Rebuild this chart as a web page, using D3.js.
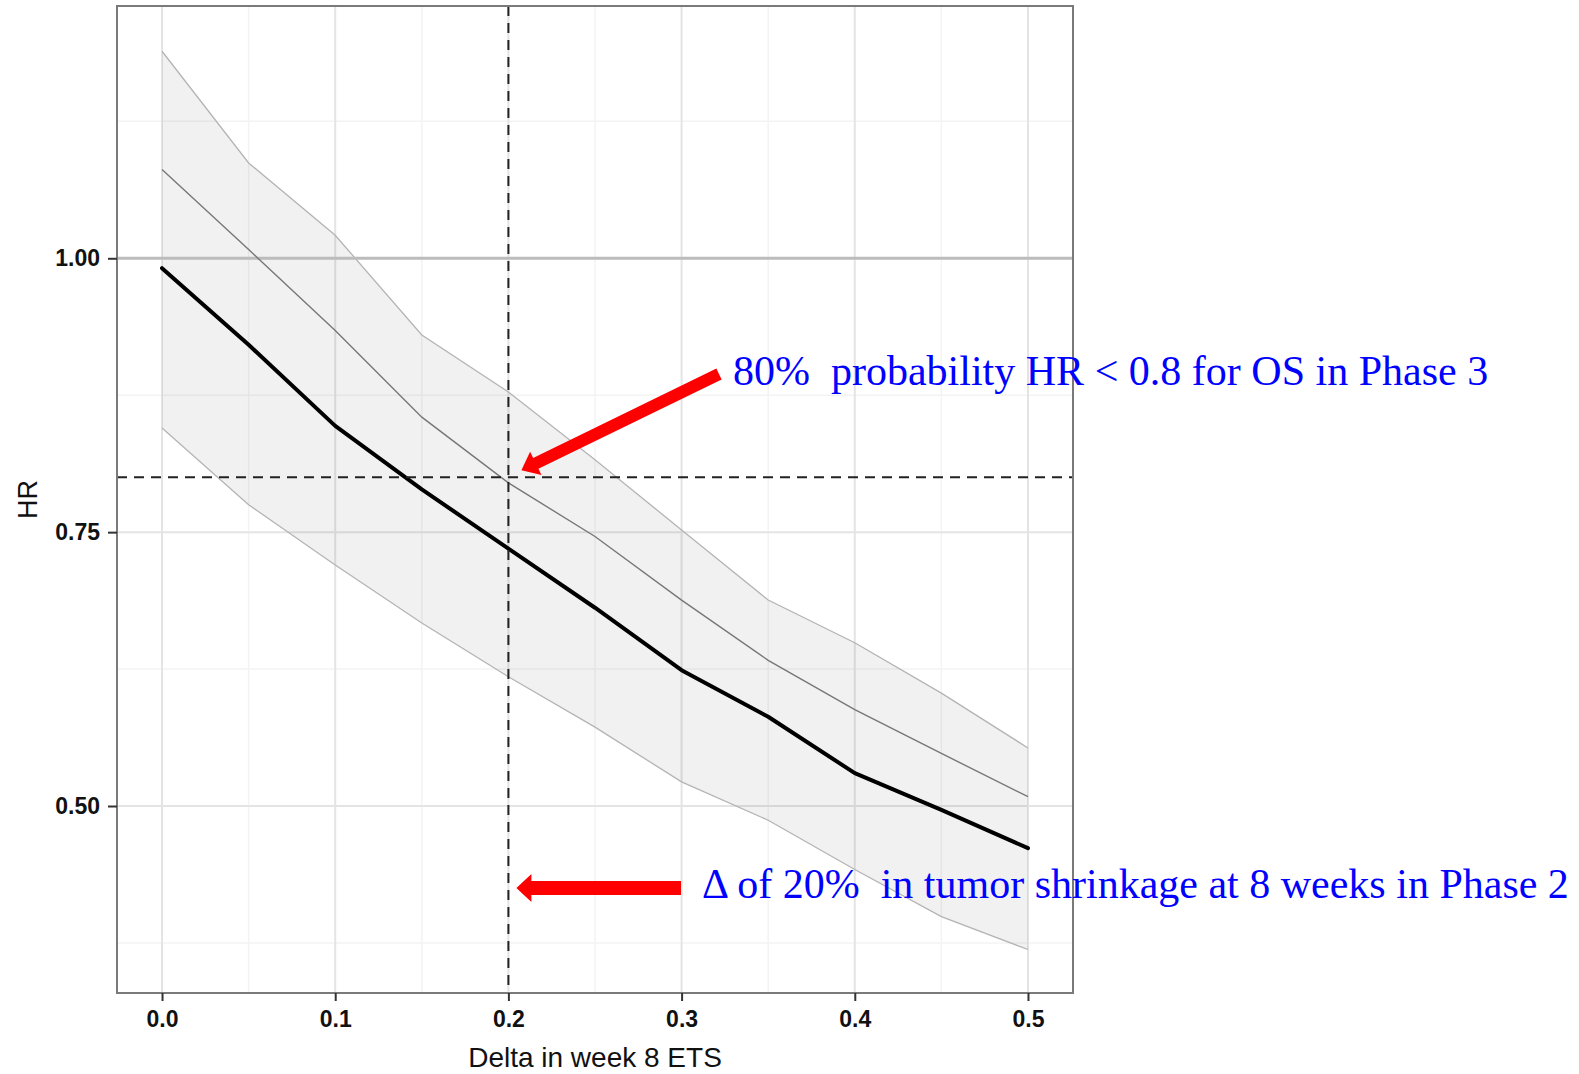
<!DOCTYPE html>
<html>
<head>
<meta charset="utf-8">
<script src="https://cdn.jsdelivr.net/npm/d3@7/dist/d3.min.js"></script>
<style>
  html, body { margin: 0; padding: 0; background: #fff; }
  svg { display: block; }
  .ann { white-space: pre; }
</style>
</head>
<body>
<svg id="chart" width="1579" height="1074"></svg>
<script>
// Delta in week 8 ETS (x) against predicted HR for OS
const delta = [0, 0.05, 0.1, 0.15, 0.2, 0.25, 0.3, 0.35, 0.4, 0.45, 0.5];
const hrUpper  = [1.189, 1.087, 1.021, 0.930, 0.878, 0.816, 0.752, 0.688, 0.649, 0.603, 0.553];
const hrLower  = [0.845, 0.775, 0.720, 0.667, 0.618, 0.572, 0.522, 0.487, 0.442, 0.399, 0.369];
const hrUpperLine = [1.081, 1.008, 0.934, 0.855, 0.795, 0.746, 0.688, 0.633, 0.588, 0.548, 0.5085];
const hrMean   = [0.991, 0.921, 0.847, 0.789, 0.735, 0.681, 0.624, 0.5815, 0.530, 0.4965, 0.4615];

const xTicks = [0, 0.1, 0.2, 0.3, 0.4, 0.5];
const xMinor = [0.05, 0.15, 0.25, 0.35, 0.45];
const yTicks = [0.50, 0.75, 1.00];
const yMinor = [0.375, 0.625, 0.875, 1.125];

const refHR = 1.0;        // solid reference line
const targetHR = 0.8;     // dashed HR threshold
const targetDelta = 0.2;  // dashed delta threshold

const noteTop = "80%  probability HR < 0.8 for OS in Phase 3";
const noteBottom = "\u0394 of 20%  in tumor shrinkage at 8 weeks in Phase 2";

const svg = d3.select("#chart");
const panel = { left: 117, right: 1073, top: 6, bottom: 993 };

const x = d3.scaleLinear().domain([-0.026, 0.526]).range([panel.left, panel.right]);
const y = d3.scaleLinear().domain([0.3293, 1.2303]).range([panel.bottom, panel.top]);

svg.append("rect").attr("width", 1579).attr("height", 1074).attr("fill", "#fff");

const g = svg.append("g");

// minor grid
g.selectAll(".xminor").data(xMinor).join("line")
  .attr("x1", d => x(d)).attr("x2", d => x(d))
  .attr("y1", panel.top).attr("y2", panel.bottom)
  .attr("stroke", "#f3f3f3").attr("stroke-width", 1.5);
g.selectAll(".yminor").data(yMinor).join("line")
  .attr("y1", d => y(d)).attr("y2", d => y(d))
  .attr("x1", panel.left).attr("x2", panel.right)
  .attr("stroke", "#f3f3f3").attr("stroke-width", 1.5);

// major grid
g.selectAll(".xmajor").data(xTicks).join("line")
  .attr("x1", d => x(d)).attr("x2", d => x(d))
  .attr("y1", panel.top).attr("y2", panel.bottom)
  .attr("stroke", "#e4e4e4").attr("stroke-width", 2);
g.selectAll(".ymajor").data(yTicks).join("line")
  .attr("y1", d => y(d)).attr("y2", d => y(d))
  .attr("x1", panel.left).attr("x2", panel.right)
  .attr("stroke", "#e4e4e4").attr("stroke-width", 2);

// uncertainty ribbon
const rows = delta.map((d, i) => ({ d, lo: hrLower[i], hi: hrUpper[i], mid: hrUpperLine[i], mean: hrMean[i] }));
const area = d3.area().x(r => x(r.d)).y0(r => y(r.lo)).y1(r => y(r.hi));
g.append("path").datum(rows).attr("d", area)
  .attr("fill", "#000").attr("fill-opacity", 0.055);

const lineOf = key => d3.line().x(r => x(r.d)).y(r => y(r[key]));
g.append("path").datum(rows).attr("d", lineOf("hi"))
  .attr("fill", "none").attr("stroke", "#b4b4b4").attr("stroke-width", 1.3);
g.append("path").datum(rows).attr("d", lineOf("lo"))
  .attr("fill", "none").attr("stroke", "#b4b4b4").attr("stroke-width", 1.3);

// reference line at HR = 1
g.append("line")
  .attr("x1", panel.left).attr("x2", panel.right)
  .attr("y1", y(refHR)).attr("y2", y(refHR))
  .attr("stroke", "#bcbcbc").attr("stroke-width", 3);

g.append("path").datum(rows).attr("d", lineOf("mid"))
  .attr("fill", "none").attr("stroke", "#777").attr("stroke-width", 1.4);
g.append("path").datum(rows).attr("d", lineOf("mean"))
  .attr("fill", "none").attr("stroke", "#000").attr("stroke-width", 4)
  .attr("stroke-linecap", "round").attr("stroke-linejoin", "round");

// threshold dashed lines
g.append("line")
  .attr("x1", panel.left).attr("x2", panel.right)
  .attr("y1", y(targetHR)).attr("y2", y(targetHR))
  .attr("stroke", "#222").attr("stroke-width", 2).attr("stroke-dasharray", "10,7");
g.append("line")
  .attr("x1", x(targetDelta)).attr("x2", x(targetDelta))
  .attr("y1", panel.top).attr("y2", panel.bottom)
  .attr("stroke", "#222").attr("stroke-width", 2).attr("stroke-dasharray", "10,7");

// panel border
g.append("rect")
  .attr("x", panel.left).attr("y", panel.top)
  .attr("width", panel.right - panel.left).attr("height", panel.bottom - panel.top)
  .attr("fill", "none").attr("stroke", "#7a7a7a").attr("stroke-width", 2);

// axes
const xAxis = d3.axisBottom(x).tickValues(xTicks).tickFormat(d3.format(".1f")).tickSize(8).tickPadding(10);
const yAxis = d3.axisLeft(y).tickValues(yTicks).tickFormat(d3.format(".2f")).tickSize(9).tickPadding(8);

const gx = svg.append("g").attr("transform", `translate(0,${panel.bottom})`).call(xAxis);
const gy = svg.append("g").attr("transform", `translate(${panel.left},0)`).call(yAxis);
[gx, gy].forEach(a => {
  a.select(".domain").remove();
  a.selectAll(".tick line").attr("stroke", "#333").attr("stroke-width", 2);
  a.selectAll(".tick text")
    .attr("fill", "#111")
    .style("font-family", "'Liberation Sans', Arial, sans-serif")
    .style("font-size", "23px")
    .style("font-weight", "bold");
});

svg.append("text")
  .attr("x", (x(0) + x(0.5)) / 2).attr("y", 1067)
  .attr("text-anchor", "middle")
  .style("font-family", "'Liberation Sans', Arial, sans-serif")
  .style("font-size", "28px").attr("fill", "#111")
  .text("Delta in week 8 ETS");

svg.append("text")
  .attr("transform", `translate(37,${(panel.top + panel.bottom) / 2}) rotate(-90)`)
  .attr("text-anchor", "middle")
  .style("font-family", "'Liberation Sans', Arial, sans-serif")
  .style("font-size", "27px").attr("fill", "#111")
  .text("HR");

// annotation arrows
function arrow(x0, y0, x1, y1, shaft, headW, headL) {
  const dx = x1 - x0, dy = y1 - y0, len = Math.hypot(dx, dy);
  const ux = dx / len, uy = dy / len, px = -uy, py = ux;
  const bx = x1 - ux * headL, by = y1 - uy * headL;
  const s = shaft / 2, h = headW / 2;
  const pts = [
    [x0 + px * s, y0 + py * s], [bx + px * s, by + py * s], [bx + px * h, by + py * h],
    [x1, y1],
    [bx - px * h, by - py * h], [bx - px * s, by - py * s], [x0 - px * s, y0 - py * s]
  ];
  svg.append("path").attr("d", "M" + pts.map(p => p.join(",")).join("L") + "Z").attr("fill", "#ff0000");
}
arrow(719, 374, x(targetDelta) + 13, y(targetHR) - 7, 12, 26, 16);
arrow(681, 888, x(targetDelta) + 8, 888, 14, 28, 15);

svg.append("text").attr("class", "ann")
  .attr("x", 733).attr("y", 385)
  .style("font-family", "'Liberation Serif', 'Times New Roman', serif")
  .style("font-size", "42px").attr("fill", "#0000ff")
  .text(noteTop);

svg.append("text").attr("class", "ann")
  .attr("x", 702).attr("y", 898)
  .style("font-family", "'Liberation Serif', 'Times New Roman', serif")
  .style("font-size", "42px").attr("fill", "#0000ff")
  .text(noteBottom);
</script>
</body>
</html>
